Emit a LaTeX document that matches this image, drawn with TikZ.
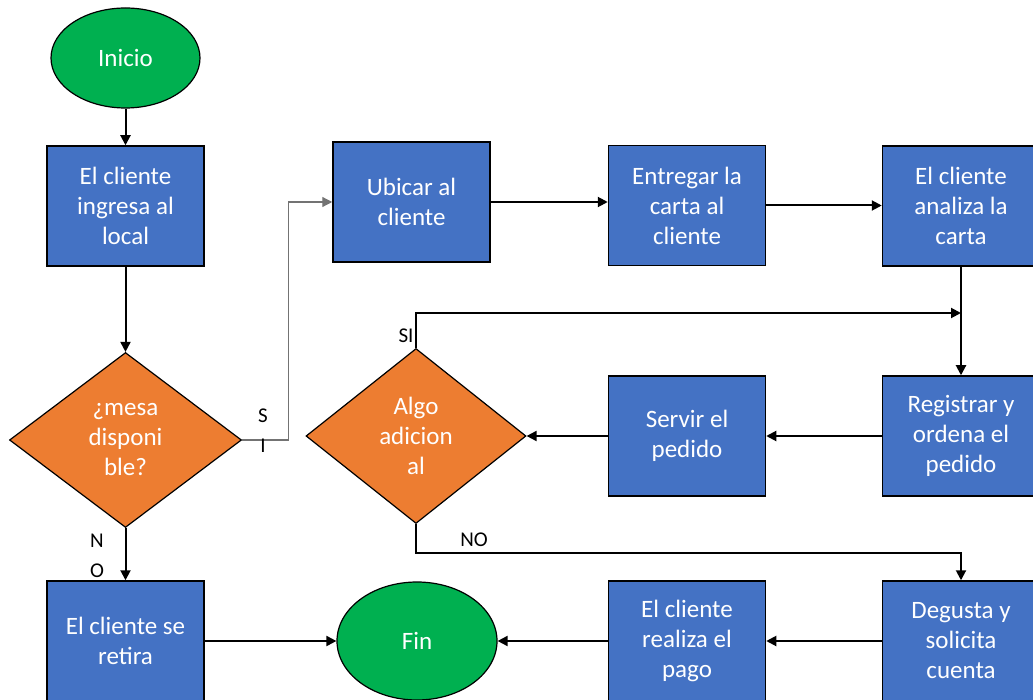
\documentclass[tikz,border=0pt]{standalone}
\usepackage{fontspec}
\setmainfont{Carlito}
\usepackage{xcolor}
\usetikzlibrary{shapes.geometric}
\usetikzlibrary{arrows.meta}
\definecolor{boxblue}{HTML}{4472C4}
\definecolor{decorange}{HTML}{ED7D31}
\definecolor{endgreen}{HTML}{00B050}
\tikzset{
  proc/.style={draw=black,line width=1.5pt,fill=boxblue,text=white,align=center,
    minimum width=157pt,minimum height=120pt,inner sep=0pt,
    font=\fontsize{25}{30}\selectfont},
  deci/.style={diamond,draw=black,line width=1.2pt,fill=decorange,text=white,align=center,
    inner sep=0pt,font=\fontsize{25}{30}\selectfont},
  term/.style={ellipse,draw=black,line width=1.2pt,fill=endgreen,text=white,
    inner sep=0pt,font=\fontsize{25}{30}\selectfont},
  flow/.style={line width=2pt,-{Triangle[length=10pt,width=10pt]}},
  lbl/.style={align=center,inner sep=0pt,font=\fontsize{21}{30}\selectfont}
}
\begin{document}
\begin{tikzpicture}[x=1pt,y=-1pt]
    \useasboundingbox (0,0) rectangle (1033,700);
    \clip (0,0) rectangle (1033,700);
    % left column
    \node[term,minimum width=149pt,minimum height=100pt] (inicio) at (125.5,58) {Inicio};
    \node[proc] (ingresa) at (125.5,206) {El cliente\\ingresa al\\local};
    \node[deci,minimum width=232pt,minimum height=175pt] (mesa) at (125.5,440) {¿mesa\\disponi\\ble?};
    \node[proc] (retira) at (125.5,641) {El cliente se\\retira};
    \node[term,minimum width=160pt,minimum height=118pt] (fin) at (417,641) {Fin};
    % top row
    \node[proc] (ubicar) at (411.5,202) {Ubicar al\\cliente};
    \node[proc] (carta) at (687,205.5) {Entregar la\\carta al\\cliente};
    \node[proc] (analiza) at (961,206) {El cliente\\analiza la\\carta};
    % middle row
    \node[proc] (registrar) at (961,436) {Registrar y\\ordena el\\pedido};
    \node[proc] (servir) at (687,436) {Servir el\\pedido};
    \node[deci,minimum width=220pt,minimum height=175pt] (algo) at (416,436) {Algo\\adicion\\al};
    % bottom row
    \node[proc] (degusta) at (961,641) {Degusta y\\solicita\\cuenta};
    \node[proc] (pago) at (687,641) {El cliente\\realiza el\\pago};
    \coordinate (siturn) at (961,313);
    % connectors
    \draw[flow] (inicio) -- (ingresa);
    \draw[flow] (ingresa) -- (mesa);
    \draw[flow,line width=1.2pt,draw=black!55] (mesa.east) -- ++(46,0) |- (ubicar.west);
    \draw[flow] (mesa) -- (retira);
    \draw[flow] (retira) -- (fin);
    \draw[flow] (ubicar.east) -- (ubicar.east -| carta.west);
    \draw[flow] (carta.east) -- (carta.east -| analiza.west);
    \draw[flow] (analiza) -- (registrar);
    \draw[flow] (algo.north) |- (siturn);
    \draw[flow] (registrar) -- (servir);
    \draw[flow] (servir) -- (algo);
    \draw[flow] (algo.south) -- ++(0,29) -| (degusta.north);
    \draw[flow] (degusta) -- (pago);
    \draw[flow] (pago) -- (fin);
    % labels
    \node[lbl] (lsi1) at (263,431) {S\\I};
    \node[lbl] (lno1) at (97,556) {N\\O};
    \node[lbl] (lsi2) at (406,336) {SI};
    \node[lbl] (lno2) at (474,540) {NO};
\end{tikzpicture}
\end{document}
